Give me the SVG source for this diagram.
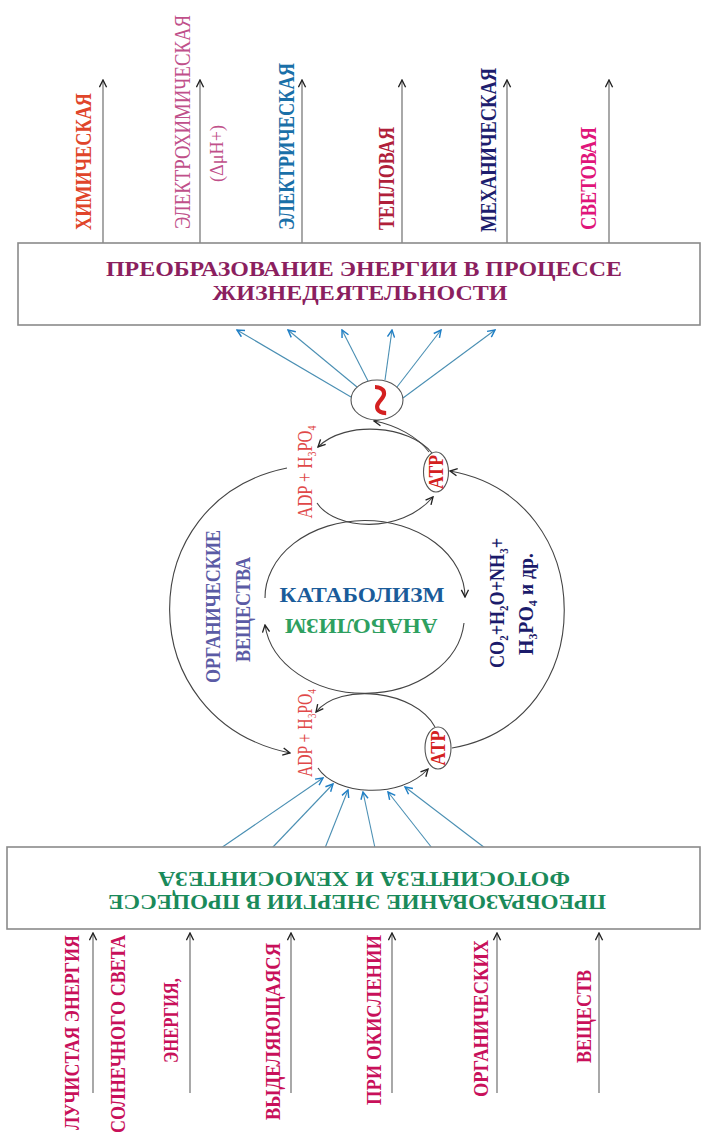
<svg xmlns="http://www.w3.org/2000/svg" width="706" height="1142" viewBox="0 0 706 1142">
<style>
text{font-family:"Liberation Serif","Times New Roman",serif;}
.b{font-weight:bold;}
.box{fill:#fff;stroke:#8a8a8a;stroke-width:1.6;}
.vline{stroke:#7a7a7a;stroke-width:1.3;fill:none;marker-end:url(#ah);}
.cyca{stroke:#444;stroke-width:1.1;fill:none;marker-end:url(#ah);}
.blue{stroke:#4a8fb3;stroke-width:1.1;fill:none;marker-end:url(#ahb);}
.ell{fill:#fff;stroke:#555;stroke-width:1.1;}
</style>
<defs>
<marker id="ah" viewBox="0 0 10 10" refX="9" refY="5" markerWidth="9" markerHeight="9" markerUnits="userSpaceOnUse" orient="auto"><path d="M1,1 L9,5 L1,9" fill="none" stroke="#222" stroke-width="1.5"/></marker>
<marker id="ahb" viewBox="0 0 10 10" refX="9" refY="5" markerWidth="9" markerHeight="9" markerUnits="userSpaceOnUse" orient="auto"><path d="M1,1 L9,5 L1,9" fill="none" stroke="#1f7fc6" stroke-width="1.6"/></marker>
</defs>

<g id="connectors">
  <line class="vline" x1="103" y1="243" x2="103" y2="80"/>
  <line class="vline" x1="200" y1="243" x2="200" y2="80"/>
  <line class="vline" x1="302" y1="243" x2="302" y2="80"/>
  <line class="vline" x1="402" y1="243" x2="402" y2="80"/>
  <line class="vline" x1="507" y1="243" x2="507" y2="80"/>
  <line class="vline" x1="609" y1="243" x2="609" y2="80"/>
  <line class="vline" x1="93" y1="1093" x2="93" y2="933"/>
  <line class="vline" x1="190" y1="1093" x2="190" y2="933"/>
  <line class="vline" x1="291" y1="1093" x2="291" y2="933"/>
  <line class="vline" x1="392" y1="1093" x2="392" y2="933"/>
  <line class="vline" x1="497" y1="1093" x2="497" y2="933"/>
  <line class="vline" x1="599" y1="1093" x2="599" y2="933"/>
  <line class="blue" x1="351" y1="397" x2="237" y2="330"/>
  <line class="blue" x1="357" y1="387" x2="288" y2="330"/>
  <line class="blue" x1="368" y1="381" x2="342" y2="330"/>
  <line class="blue" x1="385" y1="380" x2="392" y2="330"/>
  <line class="blue" x1="397" y1="387" x2="441" y2="330"/>
  <line class="blue" x1="403" y1="398" x2="495" y2="330"/>
  <line class="blue" x1="221" y1="848" x2="323" y2="778"/>
  <line class="blue" x1="272" y1="848" x2="333" y2="784"/>
  <line class="blue" x1="325" y1="848" x2="348" y2="790"/>
  <line class="blue" x1="375" y1="848" x2="363" y2="792"/>
  <line class="blue" x1="432" y1="848" x2="388" y2="792"/>
  <line class="blue" x1="485" y1="848" x2="405" y2="787"/>
  <path class="cyca" d="M432,453 C410,425 345,420 318,447"/>
  <path class="cyca" d="M429,452 C418,437 396,425 374,421"/>
  <path class="cyca" d="M317,503 C335,530 400,535 433,497"/>
  <path class="cyca" d="M265,598 A100,77 0 0 1 465,597"/>
  <path class="cyca" d="M464,623 A100,77 0 0 1 265,625"/>
  <path class="cyca" d="M435,727 C415,690 340,682 316,712"/>
  <path class="cyca" d="M318,768 C335,795 400,800 428,769"/>
  <path class="cyca" d="M287,468 C130,500 130,720 290,753"/>
  <path class="cyca" d="M452,748 C602,722 602,498 450,471"/>
</g>

<g id="box-top">
  <rect class="box" x="18" y="243" width="682" height="82"/>
  <text class="b" x="364" y="276" font-size="21" fill="#8b1f5f" text-anchor="middle" textLength="516" lengthAdjust="spacingAndGlyphs">ПРЕОБРАЗОВАНИЕ ЭНЕРГИИ В ПРОЦЕССЕ</text>
  <text class="b" x="360" y="300" font-size="21" fill="#8b1f5f" text-anchor="middle" textLength="295" lengthAdjust="spacingAndGlyphs">ЖИЗНЕДЕЯТЕЛЬНОСТИ</text>
</g>

<g id="box-bottom">
  <rect class="box" x="7" y="847" width="693" height="82"/>
  <g transform="translate(364,879) rotate(180)">
    <text class="b" x="0" y="7" font-size="21" fill="#1a8a5a" text-anchor="middle" textLength="412" lengthAdjust="spacingAndGlyphs">ФОТОСИНТЕЗА И ХЕМОСИНТЕЗА</text>
  </g>
  <g transform="translate(357,902) rotate(180)">
    <text class="b" x="0" y="7" font-size="21" fill="#1a8a5a" text-anchor="middle" textLength="498" lengthAdjust="spacingAndGlyphs">ПРЕОБРАЗОВАНИЕ ЭНЕРГИИ В ПРОЦЕССЕ</text>
  </g>
</g>

<g id="labels-top">
  <text class="b" transform="translate(91,161.5) rotate(-90)" font-size="24" fill="#e0452a" text-anchor="middle" textLength="137" lengthAdjust="spacingAndGlyphs">ХИМИЧЕСКАЯ</text>
  <text transform="translate(190,122) rotate(-90) scale(0.84,1)" font-size="23" fill="#c0508a" text-anchor="middle" textLength="255" lengthAdjust="spacingAndGlyphs">ЭЛЕКТРОХИМИЧЕСКАЯ</text>
  <text transform="translate(223,153.5) rotate(-90)" font-size="18" fill="#c0508a" text-anchor="middle" textLength="57" lengthAdjust="spacingAndGlyphs">(ΔμH+)</text>
  <text class="b" transform="translate(294,146.5) rotate(-90)" font-size="23" fill="#1a70a8" text-anchor="middle" textLength="167" lengthAdjust="spacingAndGlyphs">ЭЛЕКТРИЧЕСКАЯ</text>
  <text class="b" transform="translate(394,178.5) rotate(-90)" font-size="23" fill="#b0203a" text-anchor="middle" textLength="103" lengthAdjust="spacingAndGlyphs">ТЕПЛОВАЯ</text>
  <text class="b" transform="translate(496,150) rotate(-90)" font-size="23" fill="#1e1e6e" text-anchor="middle" textLength="164" lengthAdjust="spacingAndGlyphs">МЕХАНИЧЕСКАЯ</text>
  <text class="b" transform="translate(596,178.5) rotate(-90)" font-size="23" fill="#e0157a" text-anchor="middle" textLength="103" lengthAdjust="spacingAndGlyphs">СВЕТОВАЯ</text>
</g>

<g id="labels-bottom" fill="#c8105a">
  <text class="b" transform="translate(78.5,1032.5) rotate(-90)" font-size="22" text-anchor="middle" textLength="195" lengthAdjust="spacingAndGlyphs">ЛУЧИСТАЯ ЭНЕРГИЯ</text>
  <text class="b" transform="translate(124.5,1034) rotate(-90)" font-size="22" text-anchor="middle" textLength="198" lengthAdjust="spacingAndGlyphs">СОЛНЕЧНОГО СВЕТА</text>
  <text class="b" transform="translate(177.5,1020.5) rotate(-90)" font-size="22" text-anchor="middle" textLength="85" lengthAdjust="spacingAndGlyphs">ЭНЕРГИЯ,</text>
  <text class="b" transform="translate(279.5,1031.5) rotate(-90)" font-size="22" text-anchor="middle" textLength="177" lengthAdjust="spacingAndGlyphs">ВЫДЕЛЯЮЩАЯСЯ</text>
  <text class="b" transform="translate(380.5,1020) rotate(-90)" font-size="22" text-anchor="middle" textLength="170" lengthAdjust="spacingAndGlyphs">ПРИ ОКИСЛЕНИИ</text>
  <text class="b" transform="translate(487.5,1018.5) rotate(-90)" font-size="22" text-anchor="middle" textLength="157" lengthAdjust="spacingAndGlyphs">ОРГАНИЧЕСКИХ</text>
  <text class="b" transform="translate(590.5,1016.5) rotate(-90)" font-size="22" text-anchor="middle" textLength="93" lengthAdjust="spacingAndGlyphs">ВЕЩЕСТВ</text>
</g>

<g id="node-bond">
  <ellipse class="ell" cx="377" cy="400" rx="26" ry="20"/>
  <text class="b" transform="translate(377,400) rotate(90)" x="0" y="16.5" font-size="60" fill="#d42020" text-anchor="middle">~</text>
</g>

<g id="node-atp-upper">
  <ellipse class="ell" cx="436" cy="472" rx="12.5" ry="20"/>
  <text class="b" transform="translate(443,472) rotate(-90)" font-size="20" fill="#d42020" text-anchor="middle" textLength="34" lengthAdjust="spacingAndGlyphs">ATP</text>
</g>
<g id="node-atp-lower">
  <ellipse class="ell" cx="438" cy="748" rx="13" ry="21"/>
  <text class="b" transform="translate(445,748) rotate(-90)" font-size="20" fill="#d42020" text-anchor="middle" textLength="35" lengthAdjust="spacingAndGlyphs">ATP</text>
</g>

<g id="node-adp-upper">
  <text transform="translate(312,472) rotate(-90)" font-size="20" fill="#e04848" text-anchor="middle" textLength="93" lengthAdjust="spacingAndGlyphs">ADP + H<tspan font-size="12" dy="4">3</tspan><tspan dy="-4">PO</tspan><tspan font-size="12" dy="4">4</tspan></text>
</g>
<g id="node-adp-lower">
  <text transform="translate(312,733) rotate(-90)" font-size="20" fill="#e04848" text-anchor="middle" textLength="88" lengthAdjust="spacingAndGlyphs">ADP + H<tspan font-size="12" dy="4">3</tspan><tspan dy="-4">PO</tspan><tspan font-size="12" dy="4">4</tspan></text>
</g>

<g id="node-catabolism">
  <text class="b" x="362" y="602" font-size="20" fill="#1a5c9a" text-anchor="middle" textLength="165" lengthAdjust="spacingAndGlyphs">КАТАБОЛИЗМ</text>
</g>
<g id="node-anabolism">
  <text class="b" transform="translate(361,625.5) rotate(180)" y="6.5" font-size="20" fill="#2ea060" text-anchor="middle" textLength="153" lengthAdjust="spacingAndGlyphs">АНАБОЛИЗМ</text>
</g>

<g id="node-organic">
  <text class="b" transform="translate(220,606.5) rotate(-90)" font-size="21" fill="#5b5ba5" text-anchor="middle" textLength="153" lengthAdjust="spacingAndGlyphs">ОРГАНИЧЕСКИЕ</text>
  <text class="b" transform="translate(250,609.5) rotate(-90)" font-size="21" fill="#5b5ba5" text-anchor="middle" textLength="105" lengthAdjust="spacingAndGlyphs">ВЕЩЕСТВА</text>
</g>

<g id="node-products">
  <text class="b" transform="translate(504,603) rotate(-90)" font-size="20" fill="#1b1b6b" text-anchor="middle" textLength="130" lengthAdjust="spacingAndGlyphs">CO<tspan font-size="12" dy="4">2</tspan><tspan dy="-4">+H</tspan><tspan font-size="12" dy="4">2</tspan><tspan dy="-4">O+NH</tspan><tspan font-size="12" dy="4">3</tspan><tspan dy="-4">+</tspan></text>
  <text class="b" transform="translate(533,604) rotate(-90)" font-size="20" fill="#1b1b6b" text-anchor="middle" textLength="102" lengthAdjust="spacingAndGlyphs">H<tspan font-size="12" dy="4">3</tspan><tspan dy="-4">PO</tspan><tspan font-size="12" dy="4">4</tspan><tspan dy="-4"> и др.</tspan></text>
</g>
</svg>
